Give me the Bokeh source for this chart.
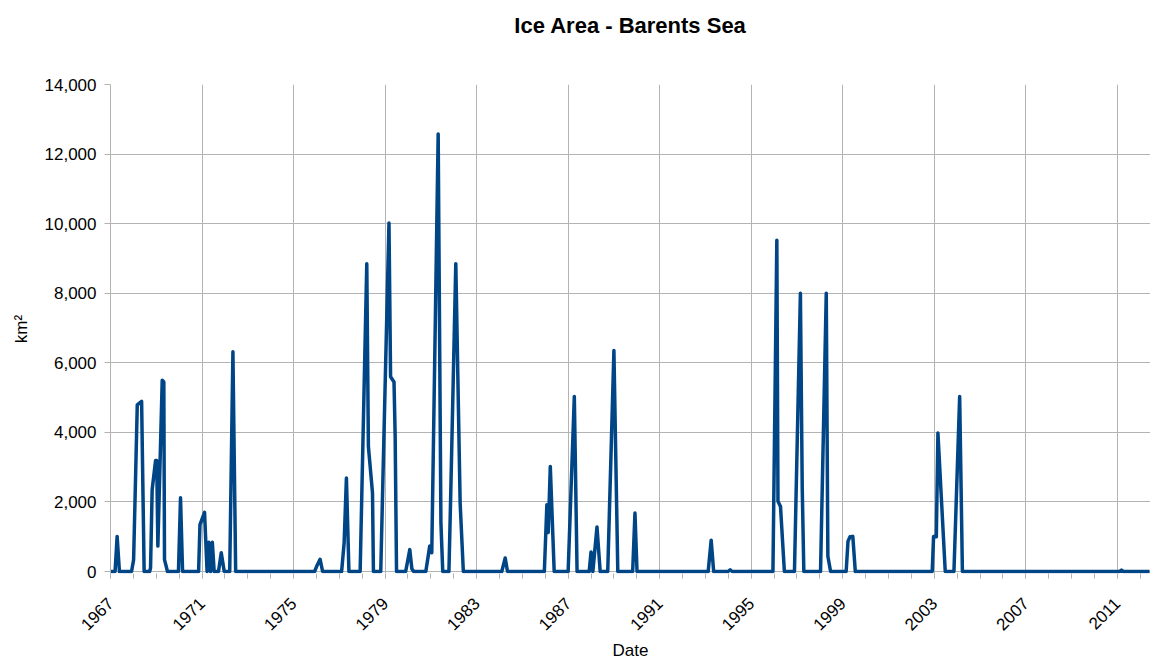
from math import pi
from bokeh.plotting import figure
from bokeh.models import FixedTicker, NumeralTickFormatter, Range1d, Title, CustomJSTickFormatter
from bokeh.embed import file_html
from bokeh.resources import INLINE

# Data: decimal year, ice area (km^2)
dates = [
    1967.00, 1967.20, 1967.29, 1967.39,
    1967.92, 1968.01, 1968.17, 1968.36, 1968.47,
    1968.71, 1968.75, 1968.82, 1968.97, 1969.02, 1969.07, 1969.26, 1969.33, 1969.36, 1969.49,
    1969.97, 1970.06, 1970.15,
    1970.85, 1970.91, 1971.11, 1971.22, 1971.30, 1971.37, 1971.45, 1971.53,
    1971.72, 1971.84, 1971.97,
    1972.21, 1972.35, 1972.47,
    1975.92, 1976.01, 1976.16, 1976.27,
    1977.10, 1977.21, 1977.31, 1977.42,
    1977.91, 1978.20, 1978.27, 1978.45, 1978.49,
    1978.81, 1979.17, 1979.24, 1979.39, 1979.44, 1979.50,
    1979.90, 1980.08, 1980.17, 1980.25,
    1980.78, 1980.95, 1981.04, 1981.32, 1981.44, 1981.52,
    1981.79, 1981.87, 1982.09, 1982.28, 1982.42,
    1984.10, 1984.25, 1984.35,
    1985.96, 1986.07, 1986.13, 1986.22, 1986.39,
    1987.00, 1987.27, 1987.39,
    1987.92, 1988.00, 1988.08, 1988.26, 1988.40,
    1988.73, 1989.00, 1989.17,
    1989.82, 1989.92, 1990.01,
    1993.12, 1993.25, 1993.36,
    1993.99, 1994.08, 1994.17,
    1995.95, 1996.12, 1996.17, 1996.28, 1996.45,
    1996.89, 1997.15, 1997.23, 1997.30,
    1998.03, 1998.28, 1998.35, 1998.47,
    1999.15, 1999.23, 1999.32, 1999.44, 1999.55,
    2002.91, 2002.97, 2003.09, 2003.16, 2003.48,
    2003.86, 2004.11, 2004.23,
    2011.09, 2011.18, 2011.27,
    2012.41,
]
area = [
    0, 0, 1010, 0,
    0, 340, 4790, 4890, 0,
    0, 100, 2350, 3190, 3190, 730, 5500, 5450, 340, 0,
    0, 2120, 0,
    0, 1350, 1700, 0, 840, 0, 840, 0,
    0, 540, 0,
    0, 6320, 0,
    0, 150, 350, 0,
    0, 820, 2690, 0,
    0, 8850, 3600, 2260, 0,
    0, 10020, 5600, 5450, 3900, 0,
    0, 630, 80, 0,
    0, 730, 540, 12580, 1400, 0,
    0, 2260, 8850, 1970, 0,
    0, 390, 0,
    0, 1920, 1120, 3020, 0,
    0, 5030, 0,
    0, 560, 0, 1280, 0,
    0, 6350, 0,
    0, 1680, 0,
    0, 900, 0,
    0, 50, 0,
    0, 9520, 2020, 1870, 0,
    0, 8000, 2400, 0,
    0, 8000, 440, 0,
    0, 870, 1000, 1010, 0,
    0, 1010, 1000, 3980, 0,
    0, 5030, 0,
    0, 40, 0,
    0,
]
x_ticks = list(range(1967, 2012, 4))
x_minor = list(range(1967, 2013))
y_ticks = list(range(0, 14001, 2000))

FONT = "Liberation Sans"
GRID = "#b3b3b3"

p = figure(width=1150, height=662, output_backend="svg", toolbar_location=None,
           x_range=Range1d(1967, 2012.45), y_range=Range1d(-57, 14000),
           min_border_left=110, min_border_right=0, min_border_top=84, min_border_bottom=88)
p.outline_line_color = None
p.background_fill_color = "white"

p.title = Title(text="Ice Area - Barents Sea", align="center", text_font=FONT,
                text_font_size="22px", text_font_style="bold", text_color="black", standoff=18)
# blank spacer panel between the title and the plot frame
p.add_layout(Title(text=" ", text_font_size="2px", standoff=34), "above")

p.line(dates, area, line_color="#004586", line_width=3.5, line_join="round")

xa = p.xaxis[0]
xa.ticker = FixedTicker(ticks=x_ticks, minor_ticks=x_minor)
xa.formatter = CustomJSTickFormatter(code="return tick.toFixed(0);")
xa.major_label_orientation = pi / 4
xa.axis_label = "Date"
xa.axis_label_text_font = FONT
xa.axis_label_text_font_size = "17px"
xa.axis_label_text_font_style = "normal"
xa.axis_label_text_color = "black"
xa.major_label_text_font = FONT
xa.major_label_text_font_size = "17px"
xa.major_label_text_color = "black"
xa.axis_line_color = None
xa.major_tick_line_color = GRID
xa.minor_tick_line_color = GRID
xa.major_tick_in = 0
xa.major_tick_out = 5
xa.minor_tick_in = 0
xa.minor_tick_out = 5
xa.major_label_standoff = 22
xa.axis_label_standoff = 2

ya = p.yaxis[0]
ya.ticker = FixedTicker(ticks=y_ticks)
ya.formatter = NumeralTickFormatter(format="0,0")
ya.axis_label = "km²"
ya.axis_label_text_font = FONT
ya.axis_label_text_font_size = "17px"
ya.axis_label_text_font_style = "normal"
ya.axis_label_text_color = "black"
ya.major_label_text_font = FONT
ya.major_label_text_font_size = "17px"
ya.major_label_text_color = "black"
ya.axis_line_color = GRID
ya.major_tick_line_color = GRID
ya.major_tick_in = 0
ya.major_tick_out = 6
ya.minor_tick_line_color = None
ya.major_label_standoff = 8
ya.axis_label_standoff = 11

p.xgrid.grid_line_color = GRID
p.ygrid.grid_line_color = GRID
p.xgrid.grid_line_width = 1
p.ygrid.grid_line_width = 1

open("out.html", "w").write(file_html(p, INLINE))
